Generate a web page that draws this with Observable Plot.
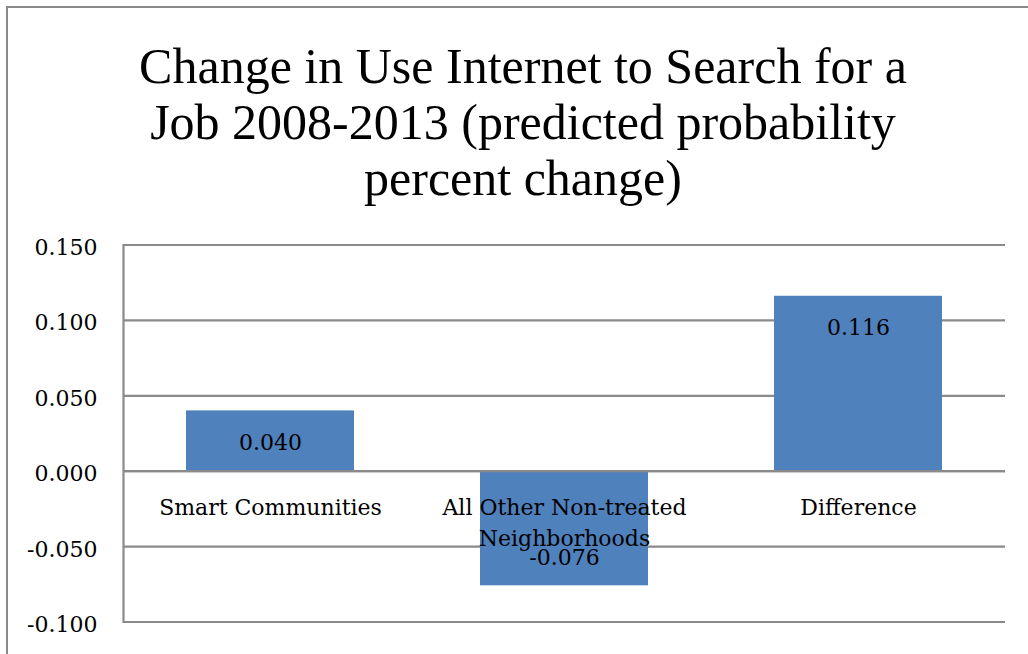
<!DOCTYPE html>
<html>
<head>
<meta charset="utf-8">
<script src="https://cdn.jsdelivr.net/npm/d3@7"></script>
<script src="https://cdn.jsdelivr.net/npm/@observablehq/plot@0.6"></script>
<style>
  html, body { margin: 0; padding: 0; background: #fff; width: 1028px; height: 654px; overflow: hidden; }
  #border { position: absolute; left: 6px; top: 6px; width: 1100px; height: 700px;
            border-left: 2px solid #8a8a8a; border-top: 2px solid #8a8a8a; box-sizing: border-box; }
  #title { position: absolute; left: 0; top: 38px; width: 1046px; text-align: center;
           font-family: "Liberation Serif", serif; font-size: 50px; line-height: 56px; color: #000; }
  #chart { position: absolute; left: 0; top: 214px; }
</style>
</head>
<body>
<div id="border"></div>
<div id="title">Change in Use Internet to Search for a<br>Job 2008-2013 (predicted probability<br>percent change)</div>
<div id="chart"></div>
<script>
const categories = ["Smart Communities", "All Other Non-treated Neighborhoods", "Difference"];
const categoryLabels = ["Smart Communities", "All Other Non-treated\nNeighborhoods", "Difference"];
const values = [0.040, -0.076, 0.116];
const valueLabels = ["0.040", "-0.076", "0.116"];
const yTicks = [-0.100, -0.050, 0.000, 0.050, 0.100, 0.150];
const yTickLabels = ["-0.100", "-0.050", "0.000", "0.050", "0.100", "0.150"];

const data = categories.map((c, i) => ({
  category: c, label: categoryLabels[i], value: values[i], valueLabel: valueLabels[i]
}));

const gray = "#8a8a8a";
const axisFont = "DejaVu Serif";

const chart = Plot.plot({
  width: 1028,
  height: 440,
  marginLeft: 123,
  marginRight: 23,
  marginTop: 30.5,
  marginBottom: 32.5,
  style: { fontFamily: axisFont, fontSize: "22px", color: "#000", background: "transparent" },
  x: { domain: categories, padding: 0, axis: null },
  y: { domain: [-0.1, 0.15], axis: null },
  marks: [
    Plot.ruleY(yTicks, { stroke: gray, strokeWidth: 2.2, strokeOpacity: 1 }),
    Plot.frame({ anchor: "left", stroke: gray, strokeWidth: 2.2 }),
    Plot.axisY({
      ticks: yTicks,
      tickFormat: d => yTickLabels[yTicks.indexOf(d)],
      tickSize: 0,
      tickPadding: 26,
      fontSize: 22,
      fontFamily: axisFont,
      dy: 3,
      label: null
    }),
    Plot.barY(data, { x: "category", y: "value", fill: "#4f81bd", insetLeft: 63, insetRight: 63 }),
    Plot.ruleY([0], { stroke: gray, strokeWidth: 2.2 }),
    Plot.text(data, {
      x: "category", y: 0, text: "label", lineAnchor: "top", dy: 21, lineHeight: 1.43,
      fontSize: 22, fontFamily: axisFont, fill: "#000"
    }),
    Plot.text(data, {
      x: "category", y: "value", text: "valueLabel",
      fontSize: 22, fontFamily: axisFont, fill: "#000",
      filter: d => d.value >= 0, dy: 32
    }),
    Plot.text(data, {
      x: "category", y: "value", text: "valueLabel",
      fontSize: 22, fontFamily: axisFont, fill: "#000",
      filter: d => d.value < 0, dy: -28
    })
  ]
});
document.getElementById("chart").appendChild(chart);
</script>
</body>
</html>
